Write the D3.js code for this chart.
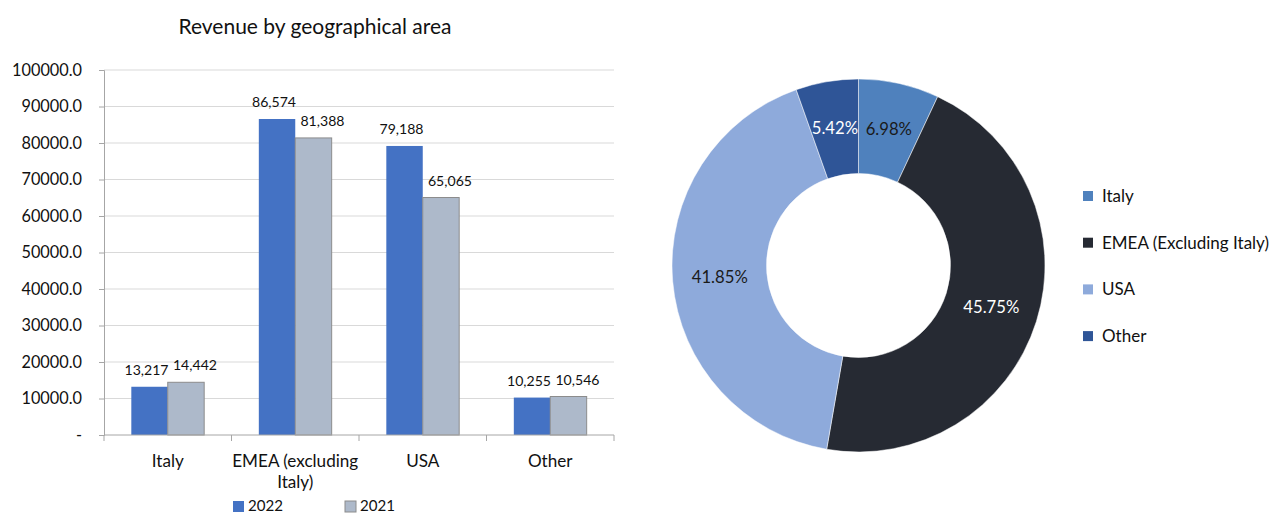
<!DOCTYPE html>
<html>
<head>
<meta charset="utf-8">
<script src="https://cdn.jsdelivr.net/npm/d3@7"></script>
<style>
  html, body { margin: 0; padding: 0; background: #fff; }
  svg { display: block; font-family: Lato, "Open Sans", sans-serif; }
</style>
</head>
<body>
<svg id="chart" width="1271" height="513"></svg>
<script>
// Revenue by area (thousands), 2022 vs 2021
const categories = ["Italy", "EMEA (excluding Italy)", "USA", "Other"];
const categoryLines = [["Italy"], ["EMEA (excluding", "Italy)"], ["USA"], ["Other"]];
const seriesNames = ["2022", "2021"];
const revenue2022 = [13217, 86574, 79188, 10255];
const revenue2021 = [14442, 81388, 65065, 10546];
const yTicks = [0, 10000, 20000, 30000, 40000, 50000, 60000, 70000, 80000, 90000, 100000];

// 2022 revenue share by area (%)
const shareAreas = ["Italy", "EMEA (Excluding Italy)", "USA", "Other"];
const shareValues = [6.98, 45.75, 41.85, 5.42];

const svg = d3.select("#chart");

// font size that makes a sample string span the given width
function fitSize(sample, width) {
  const t = svg.append("text").attr("font-size", 100).text(sample);
  const w = t.node().getComputedTextLength();
  t.remove();
  return +(100 * width / w).toFixed(2);
}
const fsTitle = fitSize("Revenue by geographical area", 273);
const fsTick = fitSize("100000.0", 70);
const fsValue = fitSize("86,574", 44);
const fsCat = fitSize("EMEA (excluding", 126);
const fsBarLegend = fitSize("2022", 35);
const fsPct = fitSize("41.85%", 56);
const fsDonutLegend = fitSize("EMEA (Excluding Italy)", 167);

// ---------- Grouped bar chart ----------
const barColors = { "2022": "#4472c4", "2021": "#adb9ca" };
const labelShift = { "2022": -3, "2021": 9 };
const x0 = d3.scaleBand().domain(categories).range([104, 614]).paddingInner(0).paddingOuter(0);
const x1 = d3.scaleBand().domain(seriesNames).range([0, x0.bandwidth()]).paddingInner(0).paddingOuter(0.75);
const y = d3.scaleLinear().domain([0, 100000]).range([435, 70]);

svg.append("text")
  .attr("x", 315).attr("y", 34)
  .attr("text-anchor", "middle")
  .attr("font-size", fsTitle).attr("fill", "#111")
  .text("Revenue by geographical area");

// gridlines
svg.append("g").selectAll("line")
  .data(yTicks.filter(d => d > 0))
  .join("line")
  .attr("x1", 104).attr("x2", 614)
  .attr("y1", d => y(d)).attr("y2", d => y(d))
  .attr("stroke", "#d9d9d9").attr("stroke-width", 1);

// y axis
const yAxis = d3.axisLeft(y).tickValues(yTicks).tickSize(5).tickPadding(17)
  .tickFormat(d => d === 0 ? "-" : d3.format(".1f")(d));
const gy = svg.append("g").attr("transform", "translate(104,0)").call(yAxis);
gy.select(".domain").attr("stroke", "#a6a6a6");
gy.selectAll(".tick line").attr("stroke", "#a6a6a6");
gy.selectAll(".tick text").attr("font-size", fsTick).attr("fill", "#111").attr("font-family", "Lato, sans-serif");

// bars
const rows = categories.map((c, i) => ({ cat: c, values: [
  { s: "2022", v: revenue2022[i] }, { s: "2021", v: revenue2021[i] }] }));

const groups = svg.append("g").selectAll("g")
  .data(rows).join("g")
  .attr("transform", d => `translate(${x0(d.cat)},0)`);

groups.selectAll("rect")
  .data(d => d.values).join("rect")
  .attr("x", d => x1(d.s))
  .attr("y", d => y(d.v))
  .attr("width", x1.bandwidth())
  .attr("height", d => y(0) - y(d.v))
  .attr("fill", d => barColors[d.s])
  .attr("stroke", d => d.s === "2021" ? "#8c8c8c" : "none")
  .attr("stroke-width", 1);

groups.selectAll("text.val")
  .data(d => d.values).join("text")
  .attr("class", "val")
  .attr("x", d => x1(d.s) + x1.bandwidth() / 2 + labelShift[d.s])
  .attr("y", d => y(d.v) - 12)
  .attr("text-anchor", "middle")
  .attr("font-size", fsValue).attr("fill", "#111")
  .text(d => d3.format(",")(d.v));

// x axis
const xAxisG = svg.append("g");
xAxisG.append("line")
  .attr("x1", 104).attr("x2", 614).attr("y1", y(0)).attr("y2", y(0))
  .attr("stroke", "#a6a6a6");
const boundaries = categories.map(c => x0(c)).concat([x0.range()[1]]);
xAxisG.selectAll("line.tk")
  .data(boundaries).join("line").attr("class", "tk")
  .attr("x1", d => d).attr("x2", d => d)
  .attr("y1", y(0)).attr("y2", y(0) + 6)
  .attr("stroke", "#a6a6a6");
categories.forEach((c, i) => {
  const t = xAxisG.append("text")
    .attr("x", x0(c) + x0.bandwidth() / 2)
    .attr("y", 467)
    .attr("text-anchor", "middle")
    .attr("font-size", fsCat).attr("fill", "#111");
  categoryLines[i].forEach((line, j) => {
    t.append("tspan").attr("x", x0(c) + x0.bandwidth() / 2).attr("dy", j === 0 ? 0 : 21).text(line);
  });
});

// bar legend
const barLegend = svg.append("g");
const legendX = [233, 345];
seriesNames.forEach((s, i) => {
  barLegend.append("rect")
    .attr("x", legendX[i]).attr("y", 501).attr("width", 11).attr("height", 11)
    .attr("fill", barColors[s])
    .attr("stroke", s === "2021" ? "#8c8c8c" : "none");
  barLegend.append("text")
    .attr("x", legendX[i] + 15).attr("y", 506).attr("dy", "0.35em")
    .attr("font-size", fsBarLegend).attr("fill", "#111")
    .text(s);
});

// ---------- Donut chart ----------
const donutColors = ["#4f81bd", "#262a33", "#8eaadb", "#2f5597"];
const labelColors = ["#1a1a1a", "#ffffff", "#1a1a1a", "#ffffff"];
const cx = 858.5, cy = 265.5, rOuter = 186.5, rInner = 92;

const pie = d3.pie().sort(null).value(d => d.v);
const arcs = pie(shareAreas.map((a, i) => ({ a, v: shareValues[i], i })));
const arc = d3.arc().innerRadius(rInner).outerRadius(rOuter);
const labelArc = d3.arc().innerRadius((rInner + rOuter) / 2).outerRadius((rInner + rOuter) / 2);

const donut = svg.append("g").attr("transform", `translate(${cx},${cy})`);
donut.selectAll("path")
  .data(arcs).join("path")
  .attr("d", arc)
  .attr("fill", d => donutColors[d.data.i])
  .attr("stroke", "#ffffff").attr("stroke-width", 0.5);

donut.selectAll("text")
  .data(arcs).join("text")
  .attr("transform", d => `translate(${labelArc.centroid(d)})`)
  .attr("text-anchor", "middle")
  .attr("dy", "0.35em")
  .attr("font-size", fsPct)
  .attr("fill", d => labelColors[d.data.i])
  .text(d => d3.format(".2f")(d.data.v) + "%");

// donut legend
const dLegend = svg.append("g");
shareAreas.forEach((a, i) => {
  const ly = 196 + i * 46.7;
  dLegend.append("rect")
    .attr("x", 1083).attr("y", ly - 5).attr("width", 10).attr("height", 10)
    .attr("fill", donutColors[i]);
  dLegend.append("text")
    .attr("x", 1102).attr("y", ly).attr("dy", "0.35em")
    .attr("font-size", fsDonutLegend).attr("fill", "#111")
    .text(a);
});
</script>
</body>
</html>
